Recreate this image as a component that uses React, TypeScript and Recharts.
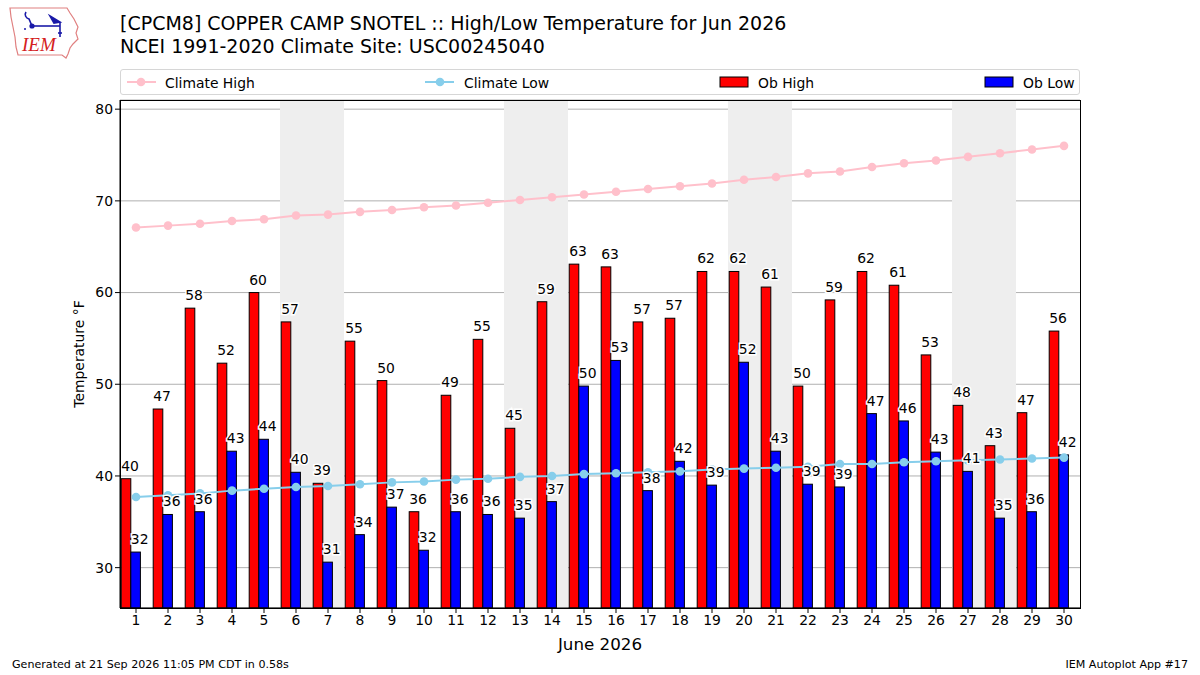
import React from "react";
import {
  ComposedChart,
  Bar,
  Line,
  XAxis,
  YAxis,
  CartesianGrid,
  ReferenceArea,
  LabelList,
} from "recharts";

const days = [
  1, 2, 3, 4, 5, 6, 7, 8, 9, 10, 11, 12, 13, 14, 15, 16, 17, 18, 19, 20, 21,
  22, 23, 24, 25, 26, 27, 28, 29, 30,
];
const obHigh = [
  39.7, 47.3, 58.3, 52.3, 60.0, 56.8, 39.2, 54.7, 50.4, 36.1, 48.8, 54.9, 45.2,
  59.0, 63.1, 62.8, 56.8, 57.2, 62.3, 62.3, 60.6, 49.8, 59.2, 62.3, 60.8, 53.2,
  47.7, 43.3, 46.9, 55.8,
];
const obLow = [
  31.7, 35.8, 36.1, 42.7, 44.0, 40.4, 30.6, 33.6, 36.6, 31.9, 36.1, 35.8, 35.4,
  37.2, 49.8, 52.6, 38.4, 41.6, 39.0, 52.4, 42.7, 39.1, 38.8, 46.8, 46.0, 42.6,
  40.5, 35.4, 36.1, 42.3,
];
const climHigh = [
  67.1, 67.3, 67.5, 67.8, 68.0, 68.4, 68.5, 68.8, 69.0, 69.3, 69.5, 69.8, 70.1,
  70.4, 70.7, 71.0, 71.3, 71.6, 71.9, 72.3, 72.6, 73.0, 73.2, 73.7, 74.1, 74.4,
  74.8, 75.2, 75.6, 76.0,
];
const climLow = [
  37.7, 37.9, 38.1, 38.4, 38.6, 38.8, 38.9, 39.1, 39.3, 39.4, 39.6, 39.7, 39.9,
  40.0, 40.2, 40.3, 40.4, 40.5, 40.7, 40.8, 40.9, 41.0, 41.3, 41.3, 41.5, 41.6,
  41.7, 41.8, 41.9, 42.0,
];
const weekends = [
  [6, 7],
  [13, 14],
  [20, 21],
  [27, 28],
];
const yTicks = [30, 40, 50, 60, 70, 80];

const FONT = "'DejaVu Sans', sans-serif";
// bars sit a bit left of the day tick, like the original plot
const SHIFT = -4.8;

const data = days.map((d, i) => ({
  day: d,
  high: obHigh[i],
  low: obLow[i],
  climHigh: climHigh[i],
  climLow: climLow[i],
}));

function BarShape(props: any) {
  const { x, y, width, height, fill } = props;
  if (height == null || height <= 0) return null;
  return (
    <rect
      x={x + SHIFT}
      y={y}
      width={width}
      height={height}
      fill={fill}
      stroke="#000"
      strokeWidth={1}
    />
  );
}

function BarLabel(props: any) {
  const vb = props.viewBox || {};
  const x = props.x ?? vb.x;
  const y = props.y ?? vb.y;
  if (x == null || y == null) return null;
  return (
    <text
      x={x + SHIFT}
      y={y - 8}
      textAnchor="start"
      fontFamily={FONT}
      fontSize={13.9}
      fill="#000"
      stroke="#fff"
      strokeWidth={3}
      paintOrder="stroke"
    >
      {Math.round(Number(props.value))}
    </text>
  );
}

function Logo() {
  return (
    <svg
      width={80}
      height={60}
      style={{ position: "absolute", left: 4, top: 3 }}
      viewBox="0 0 80 60"
    >
      <path
        d="M6 5 L63 5 L66 10 L70 16 L74 24 L72 30 L74 36 L69 41 L66 45 L64 51 L62 55 L58 52 L14 52 L12 44 L11 34 L9 24 L7 14 Z"
        fill="#fff"
        stroke="#e08080"
        strokeWidth={1.2}
      />
      <g stroke="#1a1aa8" strokeWidth={1.6} fill="none">
        <path d="M22 9 C20 12 22 15 25 16 L28 23" />
        <line x1={28} y1={23} x2={56} y2={23} />
        <path d="M46 13 L56 19 L50 20 Z" fill="#1a1aa8" />
        <line x1={56} y1={19} x2={56} y2={34} />
        <line x1={54} y1={30} x2={58} y2={30} />
      </g>
      <circle cx={28} cy={23} r={2.6} fill="#1a1aa8" />
      <circle cx={21} cy={26} r={1} fill="#1a1aa8" />
      <text
        x={18}
        y={48}
        fontFamily="'Liberation Serif', serif"
        fontStyle="italic"
        fontSize={19}
        fill="#d42020"
      >
        IEM
      </text>
    </svg>
  );
}

function LegendBox() {
  const itemText: React.CSSProperties = {
    position: "absolute",
    top: 5,
    fontFamily: FONT,
    fontSize: 13.9,
    color: "#000",
    lineHeight: "16px",
  };
  return (
    <div
      style={{
        position: "absolute",
        left: 120,
        top: 69,
        width: 958,
        height: 24,
        border: "1px solid #d6d6d6",
        borderRadius: 3,
        background: "#fff",
      }}
    >
      <svg
        width={958}
        height={24}
        style={{ position: "absolute", left: 0, top: 0 }}
      >
        <line x1={6} y1={12} x2={35} y2={12} stroke="#ffc0cb" strokeWidth={2} />
        <circle cx={20} cy={12} r={4.3} fill="#ffc0cb" />
        <line x1={304} y1={12} x2={333} y2={12} stroke="#87ceeb" strokeWidth={2} />
        <circle cx={319} cy={12} r={4.3} fill="#87ceeb" />
        <rect x={599} y={7} width={28} height={10} fill="#ff0000" stroke="#000" strokeWidth={1} />
        <rect x={864} y={7} width={28} height={10} fill="#0000ff" stroke="#000" strokeWidth={1} />
      </svg>
      <span style={{ ...itemText, left: 44 }}>Climate High</span>
      <span style={{ ...itemText, left: 343 }}>Climate Low</span>
      <span style={{ ...itemText, left: 637 }}>Ob High</span>
      <span style={{ ...itemText, left: 902 }}>Ob Low</span>
    </div>
  );
}

export default function App() {
  return (
    <div
      style={{
        position: "fixed",
        left: 0,
        top: 0,
        width: 1200,
        height: 675,
        background: "#fff",
        overflow: "hidden",
        fontFamily: FONT,
      }}
    >
      <Logo />
      <div
        style={{
          position: "absolute",
          left: 120,
          top: 12,
          fontSize: 19,
          lineHeight: "23px",
          color: "#000",
        }}
      >
        <div>[CPCM8] COPPER CAMP SNOTEL :: High/Low Temperature for Jun 2026</div>
        <div>NCEI 1991-2020 Climate Site: USC00245040</div>
      </div>

      <ComposedChart
        width={1200}
        height={675}
        data={data}
        barGap={0}
        margin={{ top: 100, right: 120, bottom: 37, left: 70 }}
        style={{ position: "absolute", left: 0, top: 0 }}
      >
        {weekends.map(([a, b]) => (
          <ReferenceArea
            key={a}
            x1={a}
            x2={b}
            fill="#eeeeee"
            fillOpacity={1}
            stroke="none"
            ifOverflow="hidden"
          />
        ))}
        <CartesianGrid vertical={false} stroke="#b0b0b0" strokeWidth={1} />
        <XAxis
          dataKey="day"
          type="category"
          interval={0}
          height={30}
          tickSize={5}
          tickLine={{ stroke: "#000" }}
          axisLine={{ stroke: "#000" }}
          tick={{ fill: "#000", fontSize: 13.9, fontFamily: FONT }}
        />
        <YAxis
          type="number"
          domain={[25.6, 81]}
          ticks={yTicks}
          width={50}
          tickSize={5}
          tickLine={{ stroke: "#000" }}
          axisLine={{ stroke: "#000" }}
          tick={{ fill: "#000", fontSize: 13.9, fontFamily: FONT }}
          allowDataOverflow
        />
        <Bar
          dataKey="high"
          fill="#ff0000"
          barSize={9.6}
          shape={BarShape}
          isAnimationActive={false}
        >
          <LabelList dataKey="high" content={BarLabel} />
        </Bar>
        <Bar
          dataKey="low"
          fill="#0000ff"
          barSize={9.6}
          shape={BarShape}
          isAnimationActive={false}
        >
          <LabelList dataKey="low" content={BarLabel} />
        </Bar>
        <Line
          dataKey="climHigh"
          type="linear"
          stroke="#ffc0cb"
          strokeWidth={2}
          dot={{ r: 4.3, fill: "#ffc0cb", stroke: "none" }}
          isAnimationActive={false}
        />
        <Line
          dataKey="climLow"
          type="linear"
          stroke="#87ceeb"
          strokeWidth={2}
          dot={{ r: 4.3, fill: "#87ceeb", stroke: "none" }}
          isAnimationActive={false}
        />
      </ComposedChart>

      {/* plot frame */}
      <div
        style={{
          position: "absolute",
          left: 120,
          top: 100,
          width: 959,
          height: 507,
          border: "1px solid #000",
          pointerEvents: "none",
        }}
      />
      <LegendBox />

      <div
        style={{
          position: "absolute",
          left: 79,
          top: 354,
          transform: "translate(-50%, -50%) rotate(-90deg)",
          fontSize: 13.9,
          whiteSpace: "nowrap",
        }}
      >
        Temperature °F
      </div>
      <div
        style={{
          position: "absolute",
          left: 600,
          top: 634,
          transform: "translateX(-50%)",
          fontSize: 16.7,
          whiteSpace: "nowrap",
        }}
      >
        June 2026
      </div>
      <div
        style={{
          position: "absolute",
          left: 12,
          top: 658,
          fontSize: 11.1,
          whiteSpace: "nowrap",
        }}
      >
        Generated at 21 Sep 2026 11:05 PM CDT in 0.58s
      </div>
      <div
        style={{
          position: "absolute",
          right: 12,
          top: 658,
          fontSize: 11.1,
          whiteSpace: "nowrap",
        }}
      >
        IEM Autoplot App #17
      </div>
    </div>
  );
}
